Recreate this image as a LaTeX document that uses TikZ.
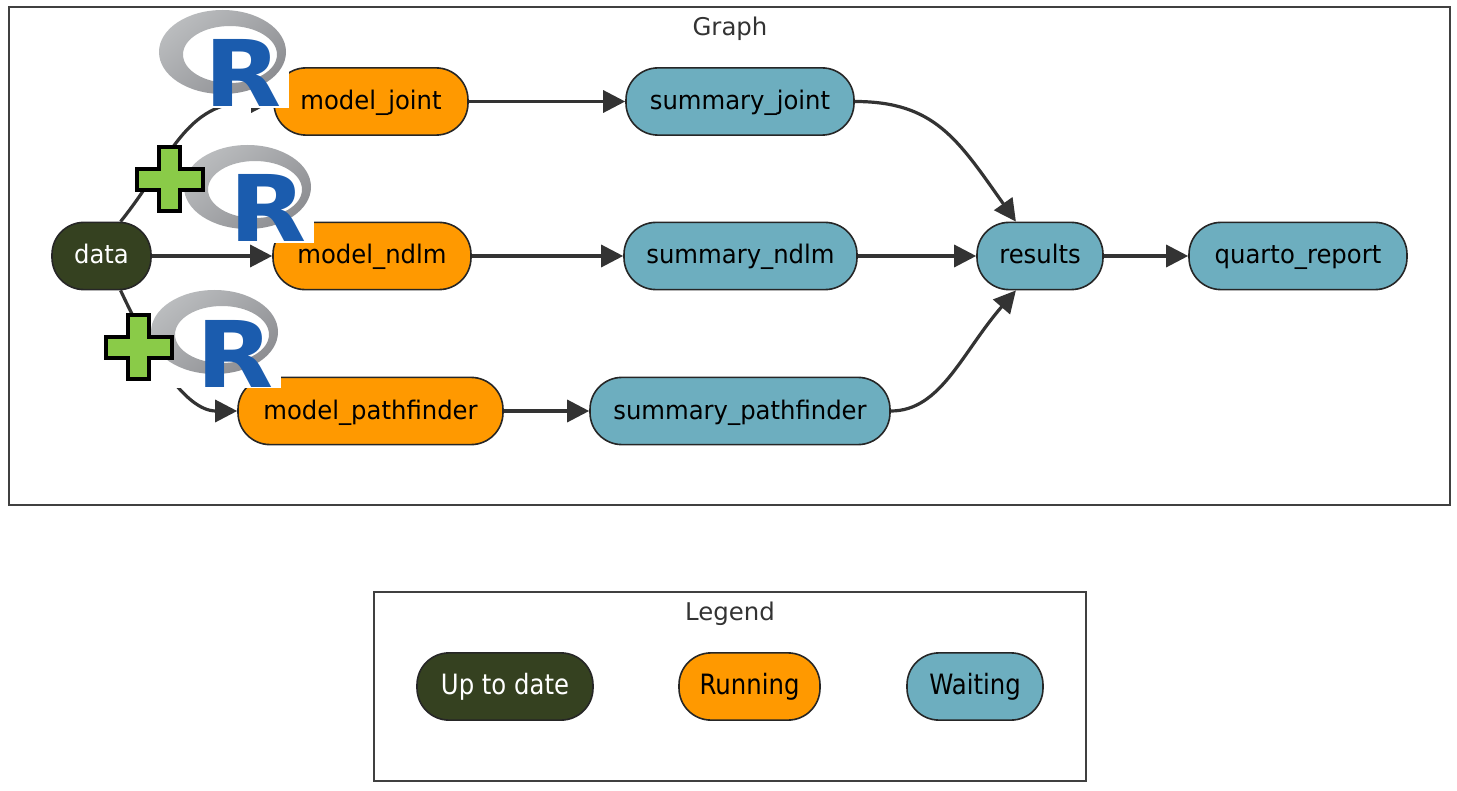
\documentclass[tikz,border=0pt]{standalone}
\usepackage{fontspec}
\setmainfont{DejaVu Sans}
\newfontfamily\graphfont{DejaVu Sans}[FakeStretch=.95]
\newfontfamily\keyfont{DejaVu Sans}[FakeStretch=.87]
\newfontfamily\logofont{DejaVu Sans Bold}
\usetikzlibrary{arrows.meta}
\definecolor{uptodate}{HTML}{354120}
\definecolor{running}{HTML}{FF9900}
\definecolor{waiting}{HTML}{6DAEBF}
\definecolor{rblue}{HTML}{1B5CAE}
\definecolor{plusgreen}{HTML}{8ACB48}
\definecolor{ringlight}{HTML}{BABCBE}
\definecolor{ringdark}{HTML}{8D8E92}
\begin{document}
\begin{tikzpicture}[x=.5pt,y=-.5pt,
    every node/.style={font=\graphfont\fontsize{12.8}{14}\selectfont},
    pill/.style={draw=black!85,line width=.8pt,rectangle,rounded corners=16pt,
        minimum height=33.6pt,inner sep=0pt,text=black,text height=10pt,text depth=2pt},
    done/.style={pill,fill=uptodate,text=white},
    run/.style={pill,fill=running},
    wait/.style={pill,fill=waiting},
    key/.style={font=\keyfont\fontsize{14}{14}\selectfont},
    frame/.style={draw=black!75,line width=.9pt},
    title/.style={text=black!80,inner sep=0pt,text height=10pt,text depth=2pt,
        font=\fontsize{12.2}{14}\selectfont},
    edge/.style={draw=black!80,line width=1.6pt,
        -{Triangle[length=11pt,width=11pt]}}]

    \useasboundingbox[fill=white] (0,0) rectangle (1457,791);

    \coordinate (graphnw) at (9,7);
    \coordinate (graphse) at (1450,505);
    \coordinate (legendnw) at (374,592);
    \coordinate (legendse) at (1086,781);
    \draw[frame] (graphnw) rectangle (graphse);
    \draw[frame] (legendnw) rectangle (legendse);
    \node[title] (graph) at (730,28) {Graph};
    \node[title] (legend) at (730,612) {Legend};

    \node[done,minimum width=49.5pt] (data) at (101.5,256) {data};
    \node[run,minimum width=97pt] (joint) at (371,101.5) {model\_joint};
    \node[run,minimum width=99pt] (ndlm) at (372,256) {model\_ndlm};
    \node[run,minimum width=132.5pt] (pathfinder) at (370.5,411) {model\_pathfinder};
    \node[wait,minimum width=114pt] (sumjoint) at (740,101.5) {summary\_joint};
    \node[wait,minimum width=116.5pt] (sumndlm) at (740.5,256) {summary\_ndlm};
    \node[wait,minimum width=150pt] (sumpath) at (740,411) {summary\_pathfinder};
    \node[wait,minimum width=63pt] (results) at (1040,256) {results};
    \node[wait,minimum width=109pt] (quarto) at (1298,256) {quarto\_report};

    \node[done,key,minimum width=88pt] (keydone) at (505,686.5) {Up to date};
    \node[run,key,minimum width=70.5pt] (keyrun) at (749.5,686.5) {Running};
    \node[wait,key,minimum width=68pt] (keywait) at (975,686.5) {Waiting};

    \draw[edge] (data.61) .. controls +(50,-62) and +(-89,0) .. (joint.west);
    \draw[edge] (data.east) -- (ndlm.west);
    \draw[edge] (data.-61) .. controls +(28,60) and +(-53,0) .. (pathfinder.west);
    \draw[edge] (joint.east) -- (sumjoint.west);
    \draw[edge] (ndlm.east) -- (sumndlm.west);
    \draw[edge] (pathfinder.east) -- (sumpath.west);
    \draw[edge] (sumjoint.east) .. controls +(80,0) and +(-58,-82) .. (results.125);
    \draw[edge] (sumndlm.east) -- (results.west);
    \draw[edge] (sumpath.east) .. controls +(50,0) and +(-54,62) .. (results.235);
    \draw[edge] (results.east) -- (quarto.west);

    % the three logos, each one on its own white sheet
    \foreach \i/\dx/\dy in {joint/0/0,ndlm/25/135,pathfinder/-8/280}{
      \begin{scope}[shift={(\dx,\dy)}]
        \fill[white] (159,10) rectangle (289,108);
        \shade[even odd rule,top color=ringlight,bottom color=ringdark,shading angle=40]
            (222.5,52) ellipse (63.5 and 42) (230,54.5) ellipse (47 and 28.5);
        \node[anchor=base west,inner sep=0pt,text=rblue,xscale=1.09,
            font=\logofont\fontsize{46}{46}\selectfont] (logo\i) at (204,107) {R};
      \end{scope}
    }

    % plus signs
    \foreach \dx/\dy in {0/0,-31/168}{
      \draw[shift={(\dx,\dy)},fill=plusgreen,draw=black,line width=2pt,miter limit=10]
        (159,147) -- (180,147) -- (180,169) -- (203,169) -- (203,190) -- (180,190)
        -- (180,211) -- (159,211) -- (159,190) -- (137,190) -- (137,169) -- (159,169) -- cycle;
    }
\end{tikzpicture}
\end{document}
